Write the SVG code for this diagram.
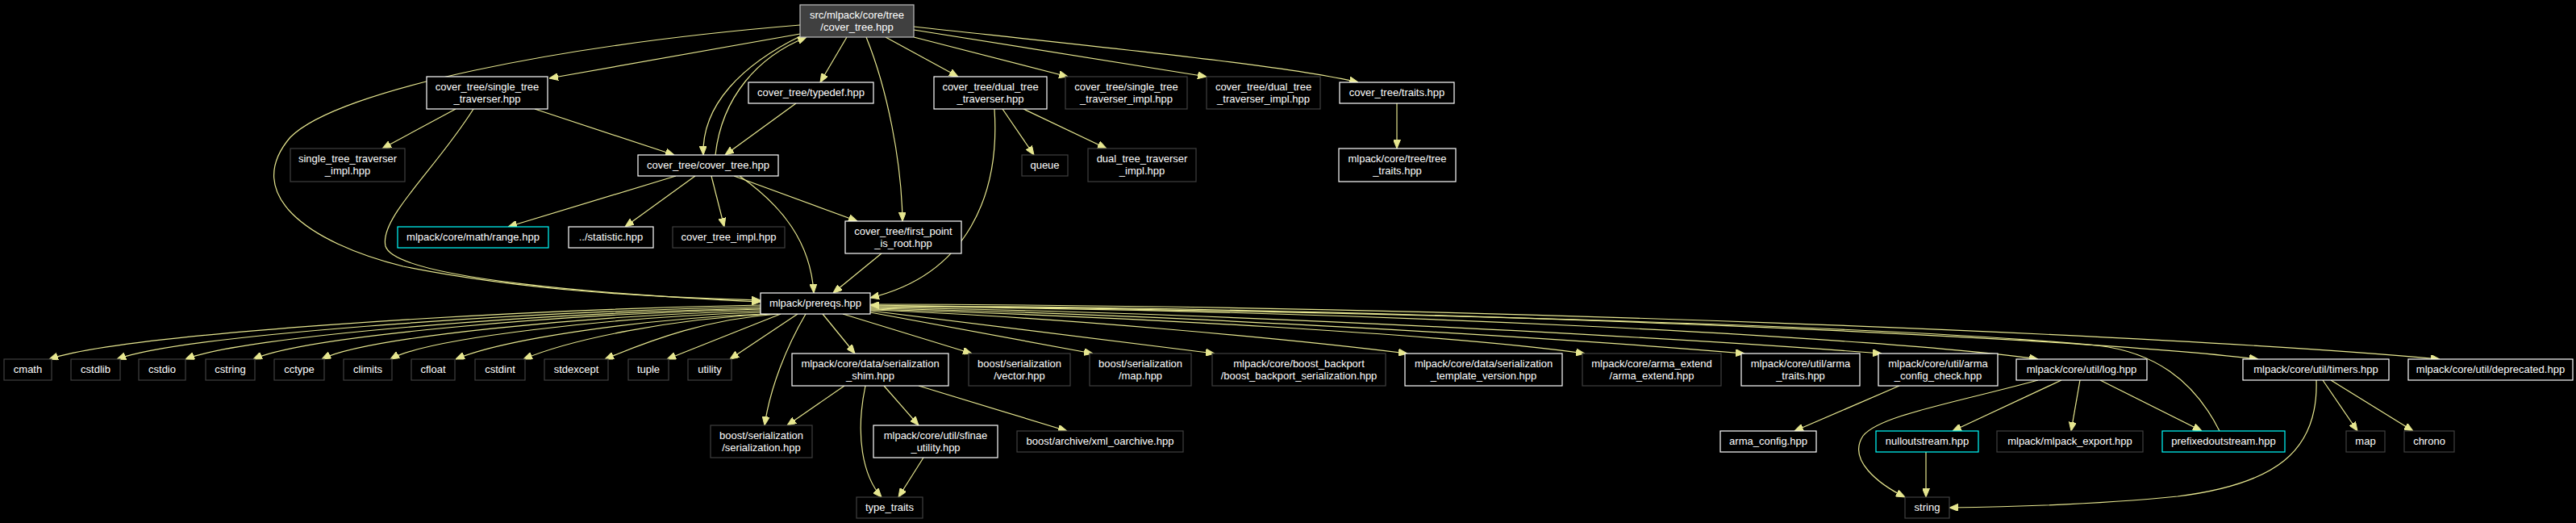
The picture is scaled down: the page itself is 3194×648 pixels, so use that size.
<svg xmlns="http://www.w3.org/2000/svg" width="3194" height="648" viewBox="0 0 3194 648">
<style>
text{font-family:"Liberation Sans",Arial,sans-serif;font-size:13px;fill:#ffffff;text-anchor:middle}
.w rect{fill:#000;stroke:#ffffff;stroke-width:1.2}
.g rect{fill:#000;stroke:#404040;stroke-width:1.2}
.c rect{fill:#000;stroke:#00ffff;stroke-width:1.2}
.m rect{fill:#404040;stroke:#c0c0c0;stroke-width:1.2}
#edges path{fill:none;stroke:#e6e68f;stroke-width:1.2;marker-end:url(#a)}
</style>
<defs>
<marker id="a" markerWidth="11" markerHeight="9" refX="11" refY="4.5" orient="auto" markerUnits="userSpaceOnUse"><path d="M0,0 L11,4.5 L0,9 z" fill="#e6e68f" stroke="#e6e68f" stroke-width="1"/></marker>
</defs>
<rect x="0" y="0" width="3194" height="648" fill="#000"/>
<g id="edges">
<path d="M992,42 L681,97"/>
<path d="M992,31 C700,55 420,110 360,170 C300,240 380,300 500,330 C650,360 800,368 943,372"/>
<path d="M587,135 C540,210 470,270 478,305 C490,345 750,365 943,374"/>
<path d="M994,44 C920,80 870,130 872,192"/>
<path d="M887,192 C895,120 940,70 1000,46"/>
<path d="M1050,46 L1017,102"/>
<path d="M1074,46 C1100,110 1118,200 1119,274"/>
<path d="M1098,46 L1188,95"/>
<path d="M1133,46 L1324,95"/>
<path d="M1133,37 L1496,95"/>
<path d="M1133,33 C1400,62 1600,82 1684,102"/>
<path d="M663,135 L836,192"/>
<path d="M565,135 L474,184"/>
<path d="M987,128 L899,192"/>
<path d="M838,218 L630,281"/>
<path d="M862,218 L775,281"/>
<path d="M882,218 L898,281"/>
<path d="M910,218 L1063,274"/>
<path d="M917,218 C970,255 1005,300 1009,363"/>
<path d="M1243,135 L1282,192"/>
<path d="M1269,135 L1372,184"/>
<path d="M1233,135 C1240,240 1200,340 1079,369"/>
<path d="M1093,314 L1033,363"/>
<path d="M1732,128 L1732,184"/>
<path d="M943,378 C590,385 149,415 61,445"/>
<path d="M943,380 C624,387 225,416 145,445"/>
<path d="M943,382 C658,388 301,417 230,445"/>
<path d="M943,383 C691,389 377,417 314,445"/>
<path d="M943,385 C725,391 453,418 399,445"/>
<path d="M943,387 C759,393 530,419 484,445"/>
<path d="M948,389 C795,395 625,420 565,445"/>
<path d="M955,389 C833,395 709,420 649,445"/>
<path d="M965,389 C879,395 810,420 750,445"/>
<path d="M968,389 L827,445"/>
<path d="M989,389 L905,445"/>
<path d="M999,389 C975,430 955,480 948,527"/>
<path d="M1020,389 L1060,438"/>
<path d="M1045,389 L1205,438"/>
<path d="M1079,387 L1355,438"/>
<path d="M1079,385 L1506,438"/>
<path d="M1079,384 C1300,392 1600,420 1745,438"/>
<path d="M1079,383 C1400,392 1800,415 1965,438"/>
<path d="M1079,382 C1450,389 1950,420 2163,438"/>
<path d="M1079,381 C1500,386 2100,420 2333,438"/>
<path d="M1079,380 C1700,383 2350,420 2527,445"/>
<path d="M1079,379 C1700,380 2550,415 2800,445"/>
<path d="M1079,377 C1800,378 2700,415 3025,445"/>
<path d="M2752,534 C2720,470 2670,436 2600,428 C2300,400 1600,385 1079,378"/>
<path d="M1047,478 L976,527"/>
<path d="M1073,478 C1060,540 1070,590 1093,616"/>
<path d="M1096,478 L1139,527"/>
<path d="M1139,478 L1323,534"/>
<path d="M1145,567 L1114,616"/>
<path d="M2355,478 L2225,534"/>
<path d="M2527,471 C2420,500 2330,515 2310,540 C2290,570 2330,600 2362,616"/>
<path d="M2556,471 L2421,534"/>
<path d="M2579,471 L2568,534"/>
<path d="M2604,471 L2730,534"/>
<path d="M2388,560 L2388,616"/>
<path d="M2872,471 C2875,560 2820,600 2700,615 C2600,625 2500,628 2417,629"/>
<path d="M2880,471 L2923,534"/>
<path d="M2890,471 L2992,534"/>
</g>
<g id="n1" class="m"><rect x="992" y="6" width="141" height="40"/><text x="1062.5" y="22.5">src/mlpack/core/tree</text><text x="1062.5" y="37.5">/cover_tree.hpp</text></g>
<g id="n2" class="w"><rect x="529" y="95" width="150" height="40"/><text x="604" y="111.5">cover_tree/single_tree</text><text x="604" y="126.5">_traverser.hpp</text></g>
<g id="n3" class="g"><rect x="360" y="184" width="142" height="41"/><text x="431" y="200.5">single_tree_traverser</text><text x="431" y="215.5">_impl.hpp</text></g>
<g id="n4" class="w"><rect x="791" y="192" width="174" height="26"/><text x="878" y="208.5">cover_tree/cover_tree.hpp</text></g>
<g id="n5" class="w"><rect x="928" y="102" width="155" height="26"/><text x="1005.5" y="118.5">cover_tree/typedef.hpp</text></g>
<g id="n6" class="c"><rect x="493" y="281" width="187" height="26"/><text x="586.5" y="297.5">mlpack/core/math/range.hpp</text></g>
<g id="n7" class="w"><rect x="705" y="281" width="105" height="26"/><text x="757.5" y="297.5">../statistic.hpp</text></g>
<g id="n8" class="g"><rect x="834" y="281" width="139" height="26"/><text x="903.5" y="297.5">cover_tree_impl.hpp</text></g>
<g id="n9" class="w"><rect x="1048" y="274" width="144" height="40"/><text x="1120" y="290.5">cover_tree/first_point</text><text x="1120" y="305.5">_is_root.hpp</text></g>
<g id="n10" class="w"><rect x="1158" y="95" width="140" height="40"/><text x="1228" y="111.5">cover_tree/dual_tree</text><text x="1228" y="126.5">_traverser.hpp</text></g>
<g id="n11" class="g"><rect x="1321" y="95" width="151" height="40"/><text x="1396.5" y="111.5">cover_tree/single_tree</text><text x="1396.5" y="126.5">_traverser_impl.hpp</text></g>
<g id="n12" class="g"><rect x="1496" y="95" width="141" height="40"/><text x="1566.5" y="111.5">cover_tree/dual_tree</text><text x="1566.5" y="126.5">_traverser_impl.hpp</text></g>
<g id="n13" class="w"><rect x="1661" y="102" width="142" height="26"/><text x="1732" y="118.5">cover_tree/traits.hpp</text></g>
<g id="n14" class="w"><rect x="1660" y="184" width="145" height="41"/><text x="1732.5" y="200.5">mlpack/core/tree/tree</text><text x="1732.5" y="215.5">_traits.hpp</text></g>
<g id="n15" class="g"><rect x="1267" y="192" width="57" height="26"/><text x="1295.5" y="208.5">queue</text></g>
<g id="n16" class="g"><rect x="1349" y="184" width="134" height="41"/><text x="1416" y="200.5">dual_tree_traverser</text><text x="1416" y="215.5">_impl.hpp</text></g>
<g id="n17" class="w"><rect x="943" y="363" width="136" height="26"/><text x="1011" y="379.5">mlpack/prereqs.hpp</text></g>
<g id="n18" class="g"><rect x="5" y="445" width="59" height="26"/><text x="34.5" y="461.5">cmath</text></g>
<g id="n19" class="g"><rect x="88" y="445" width="61" height="26"/><text x="118.5" y="461.5">cstdlib</text></g>
<g id="n20" class="g"><rect x="172" y="445" width="58" height="26"/><text x="201" y="461.5">cstdio</text></g>
<g id="n21" class="g"><rect x="255" y="445" width="61" height="26"/><text x="285.5" y="461.5">cstring</text></g>
<g id="n22" class="g"><rect x="340" y="445" width="62" height="26"/><text x="371" y="461.5">cctype</text></g>
<g id="n23" class="g"><rect x="426" y="445" width="60" height="26"/><text x="456" y="461.5">climits</text></g>
<g id="n24" class="g"><rect x="510" y="445" width="54" height="26"/><text x="537" y="461.5">cfloat</text></g>
<g id="n25" class="g"><rect x="589" y="445" width="62" height="26"/><text x="620" y="461.5">cstdint</text></g>
<g id="n26" class="g"><rect x="675" y="445" width="79" height="26"/><text x="714.5" y="461.5">stdexcept</text></g>
<g id="n27" class="g"><rect x="779" y="445" width="50" height="26"/><text x="804" y="461.5">tuple</text></g>
<g id="n28" class="g"><rect x="853" y="445" width="54" height="26"/><text x="880" y="461.5">utility</text></g>
<g id="n29" class="w"><rect x="982" y="438" width="194" height="40"/><text x="1079" y="454.5">mlpack/core/data/serialization</text><text x="1079" y="469.5">_shim.hpp</text></g>
<g id="n30" class="g"><rect x="1201" y="438" width="126" height="40"/><text x="1264" y="454.5">boost/serialization</text><text x="1264" y="469.5">/vector.hpp</text></g>
<g id="n31" class="g"><rect x="1351" y="438" width="126" height="40"/><text x="1414" y="454.5">boost/serialization</text><text x="1414" y="469.5">/map.hpp</text></g>
<g id="n32" class="g"><rect x="1503" y="438" width="215" height="40"/><text x="1610.5" y="454.5">mlpack/core/boost_backport</text><text x="1610.5" y="469.5">/boost_backport_serialization.hpp</text></g>
<g id="n33" class="w"><rect x="1742" y="438" width="195" height="40"/><text x="1839.5" y="454.5">mlpack/core/data/serialization</text><text x="1839.5" y="469.5">_template_version.hpp</text></g>
<g id="n34" class="g"><rect x="1962" y="438" width="172" height="40"/><text x="2048" y="454.5">mlpack/core/arma_extend</text><text x="2048" y="469.5">/arma_extend.hpp</text></g>
<g id="n35" class="w"><rect x="2159" y="438" width="147" height="40"/><text x="2232.5" y="454.5">mlpack/core/util/arma</text><text x="2232.5" y="469.5">_traits.hpp</text></g>
<g id="n36" class="w"><rect x="2329" y="438" width="148" height="40"/><text x="2403" y="454.5">mlpack/core/util/arma</text><text x="2403" y="469.5">_config_check.hpp</text></g>
<g id="n37" class="w"><rect x="2500" y="445" width="162" height="26"/><text x="2581" y="461.5">mlpack/core/util/log.hpp</text></g>
<g id="n38" class="w"><rect x="2781" y="445" width="181" height="26"/><text x="2871.5" y="461.5">mlpack/core/util/timers.hpp</text></g>
<g id="n39" class="w"><rect x="2986" y="445" width="204" height="26"/><text x="3088" y="461.5">mlpack/core/util/deprecated.hpp</text></g>
<g id="n40" class="g"><rect x="881" y="527" width="126" height="40"/><text x="944" y="543.5">boost/serialization</text><text x="944" y="558.5">/serialization.hpp</text></g>
<g id="n41" class="w"><rect x="1083" y="527" width="154" height="40"/><text x="1160" y="543.5">mlpack/core/util/sfinae</text><text x="1160" y="558.5">_utility.hpp</text></g>
<g id="n42" class="g"><rect x="1261" y="534" width="206" height="26"/><text x="1364" y="550.5">boost/archive/xml_oarchive.hpp</text></g>
<g id="n43" class="g"><rect x="1062" y="616" width="82" height="26"/><text x="1103" y="632.5">type_traits</text></g>
<g id="n44" class="w"><rect x="2133" y="534" width="119" height="26"/><text x="2192.5" y="550.5">arma_config.hpp</text></g>
<g id="n45" class="c"><rect x="2326" y="534" width="127" height="26"/><text x="2389.5" y="550.5">nulloutstream.hpp</text></g>
<g id="n46" class="g"><rect x="2362" y="616" width="55" height="26"/><text x="2389.5" y="632.5">string</text></g>
<g id="n47" class="g"><rect x="2476" y="534" width="181" height="26"/><text x="2566.5" y="550.5">mlpack/mlpack_export.hpp</text></g>
<g id="n48" class="c"><rect x="2681" y="534" width="152" height="26"/><text x="2757" y="550.5">prefixedoutstream.hpp</text></g>
<g id="n49" class="g"><rect x="2909" y="534" width="48" height="26"/><text x="2933" y="550.5">map</text></g>
<g id="n50" class="g"><rect x="2981" y="534" width="62" height="26"/><text x="3012" y="550.5">chrono</text></g>
</svg>
